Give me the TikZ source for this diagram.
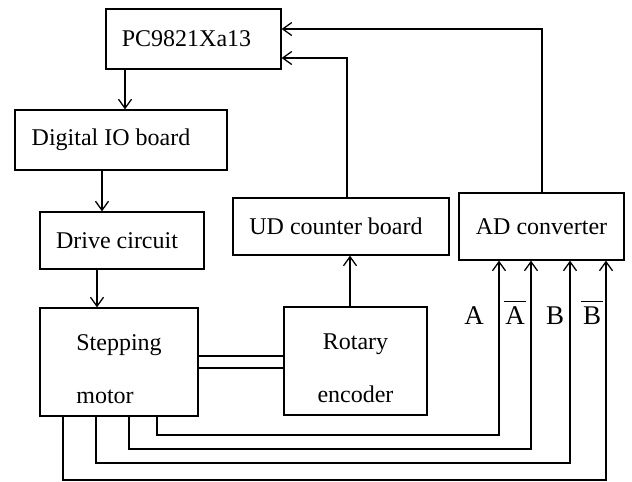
\documentclass[tikz,border=0pt]{standalone}
\usepackage{fontspec}
\setmainfont{Liberation Serif}
\usetikzlibrary{arrows.meta,calc}
\begin{document}
\begin{tikzpicture}[x=1pt,y=-1pt,
  line width=1.3pt,
  box/.style={draw, rectangle, inner sep=0pt, font=\fontsize{24}{28}\selectfont, align=center},
  arr/.style={-{Straight Barb[length=9pt,width=13pt,line width=1.3pt]}},
  lbl/.style={font=\fontsize{27}{30}\selectfont, inner sep=0pt},
  barline/.style={line width=1pt}]
\useasboundingbox (0,0) rectangle (632,482);
\node[box, minimum width=175, minimum height=60] (pc) at (193.5,39) {PC9821Xa13\hspace*{14pt}};
\node[box, minimum width=212, minimum height=60] (dio) at (121,140) {Digital IO board\hspace*{20pt}};
\node[box, minimum width=164, minimum height=57] (drv) at (122,240.5) {Drive circuit\hspace*{10pt}};
\node[box, minimum width=158, minimum height=108, align=left] (mot) at (119,362) {\rule{0pt}{30pt}Stepping\\[25pt]motor};
\node[box, minimum width=216, minimum height=57] (ud) at (341,226.5) {UD counter board\hspace*{10pt}};
\node[box, minimum width=165, minimum height=67] (ad) at (541.5,226.5) {AD converter};
\node[box, minimum width=143, minimum height=108] (enc) at (355.5,361) {\rule{0pt}{30pt}Rotary\\[25pt]encoder};
% vertical flow
\coordinate (p1) at (125,69);
\draw[arr] (p1) -- (p1 |- dio.north);
\coordinate (p2) at (102,170);
\draw[arr] (p2) -- (p2 |- drv.north);
\coordinate (p3) at (97,269);
\draw[arr] (p3) -- (p3 |- mot.north);
\coordinate (p4) at (350,307);
\draw[arr] (p4) -- (p4 |- ud.south);
% feedback to PC
\coordinate (u1) at (347,198);
\coordinate (u2) at (347,58);
\draw[arr] (u1) -- (u2) -- (u2 -| pc.east);
\coordinate (a1) at (542,193);
\coordinate (a2) at (542,29);
\draw[arr] (a1) -- (a2) -- (a2 -| pc.east);
% shaft
\coordinate (s1) at (198,356);
\coordinate (s2) at (198,368);
\draw (s1) -- (s1 -| enc.west);
\draw (s2) -- (s2 -| enc.west);
% encoder signals
\coordinate (m1) at (157,416); \coordinate (k1) at (157,435); \coordinate (r1) at (499,435);
\coordinate (m2) at (129,416); \coordinate (k2) at (129,449); \coordinate (r2) at (531,449);
\coordinate (m3) at (96,416);  \coordinate (k3) at (96,463);  \coordinate (r3) at (570,463);
\coordinate (m4) at (63,416);  \coordinate (k4) at (63,480);  \coordinate (r4) at (606,480);
\draw[arr] (m1) -- (k1) -- (r1) -- (r1 |- ad.south);
\draw[arr] (m2) -- (k2) -- (r2) -- (r2 |- ad.south);
\draw[arr] (m3) -- (k3) -- (r3) -- (r3 |- ad.south);
\draw[arr] (m4) -- (k4) -- (r4) -- (r4 |- ad.south);
\node[lbl] (la) at (474,316) {A};
\node[lbl] (lab) at (515,316) {A};
\node[lbl] (lb) at (555,316) {B};
\node[lbl] (lbb) at (592,316) {B};
\draw[barline] ($(lab.north west)+(-1,-5)$) -- ($(lab.north east)+(1,-5)$);
\draw[barline] ($(lbb.north west)+(-1,-5)$) -- ($(lbb.north east)+(1,-5)$);
\end{tikzpicture}
\end{document}
